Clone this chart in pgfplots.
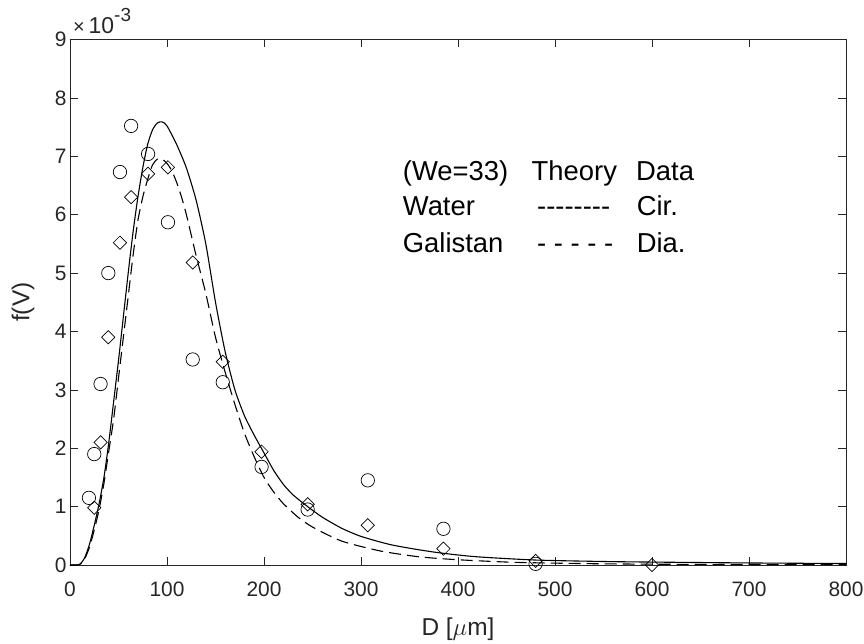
\documentclass[border=0pt]{standalone}
\usepackage{fontspec}
\setmainfont{Liberation Sans}
\usepackage{pgfplots}
\pgfplotsset{compat=1.18}
\definecolor{axgray}{HTML}{262626}
\newcommand\hy{\mbox{-}}
\begin{document}
\begin{tikzpicture}
\begin{axis}[
  at={(0,0)}, anchor=south west,
  scale only axis, width=776bp, height=525.5bp,
  xmin=0, xmax=800, ymin=0, ymax=9,
  xtick={0,100,...,800}, ytick={0,1,...,9},
  tick align=inside, major tick length=7.8bp,
  axis line style={axgray, line width=0.6bp},
  every tick/.style={axgray, line width=0.6bp},
  tick label style={font=\fontsize{21}{24}\selectfont, text=axgray},
  xticklabel shift=13bp,
  /pgf/number format/assume math mode=true,
  xlabel={D [$\mu$m]}, ylabel={f(V)},
  every axis x label/.style={at={(axis description cs:0.5,0)}, anchor=center, yshift=-64bp, font=\fontsize{24.5}{27}\selectfont, text=axgray},
  every axis y label/.style={at={(axis description cs:0,0.5)}, anchor=center, xshift=-47bp, rotate=90, font=\fontsize{24.5}{27}\selectfont, text=axgray},
  clip=false,
]
% Water theory (solid)
\addplot[black, line width=1.1bp, smooth, tension=0.4] coordinates {
(0,0) (5,0) (10,0.01) (15,0.12) (20,0.35) (25,0.68) (30,1.05) (35,1.5) (40,2.1)
(45,2.8) (50,3.5) (55,4.25) (60,5.0) (65,5.7) (70,6.3) (75,6.8) (80,7.2) (85,7.45)
(90,7.57) (95,7.59) (100,7.52) (110,7.2) (120,6.8) (130,6.25) (140,5.5) (150,4.5)
(160,3.65) (170,3.0) (180,2.55) (190,2.22) (200,1.92) (210,1.62) (220,1.38) (230,1.2)
(245,1.0) (260,0.82) (280,0.63) (300,0.49) (330,0.35) (360,0.26) (385,0.2) (420,0.14)
(480,0.085) (550,0.06) (600,0.05) (700,0.035) (800,0.025)};
% Galistan theory (dashed)
\addplot[black, line width=1.1bp, dash pattern=on 12bp off 6bp, smooth, tension=0.4] coordinates {
(0,0) (5,0) (10,0.01) (15,0.1) (20,0.3) (25,0.6) (30,0.95) (35,1.4) (40,1.95)
(45,2.5) (50,3.2) (55,3.9) (60,4.6) (65,5.3) (70,5.9) (75,6.3) (80,6.6) (85,6.85)
(90,6.95) (95,6.95) (100,6.88) (105,6.75) (110,6.55) (115,6.3) (120,6.0) (125,5.65)
(130,5.3) (140,4.65) (150,3.9) (160,3.3) (170,2.75) (180,2.25) (190,1.85) (200,1.5)
(210,1.25) (220,1.05) (235,0.82) (250,0.65) (280,0.41) (320,0.24) (360,0.14) (400,0.09)
(460,0.045) (550,0.02) (650,0.01) (800,0.005)};
% Water data (circles)
\addplot[only marks, mark=o, mark size=6.7bp, black, line width=0.7bp] coordinates {
(19.5,1.15) (25,1.9) (31.5,3.1) (39.5,5.0) (51.5,6.73) (63,7.52) (80.5,7.04) (101,5.87)
(126.5,3.52) (157.5,3.13) (197.5,1.68) (245,0.95) (307,1.45) (385,0.62) (480,0.02)};
% Galistan data (diamonds)
\addplot[only marks, mark=square, mark size=4.7bp, mark options={rotate=45}, black, line width=0.7bp] coordinates {
(25,0.98) (31.5,2.1) (39.5,3.9) (51.5,5.52) (63,6.30) (80.5,6.70) (101,6.81) (126.5,5.18)
(157.5,3.48) (197.5,1.94) (245,1.04) (307,0.68) (385,0.28) (480,0.07) (600,0.0)};
% text block
\begin{scope}[every node/.style={anchor=base west, font=\fontsize{27.5}{30}\selectfont, inner sep=0pt}]
\node at (axis cs:343,6.59) {(We=33)};
\node at (axis cs:475.8,6.59) {Theory};
\node at (axis cs:583.5,6.59) {Data};
\node at (axis cs:343,5.99) {Water};
\node at (axis cs:481.4,5.99) {\hy\hy\hy\hy\hy\hy\hy\hy};
\node at (axis cs:584.2,5.99) {Cir.};
\node at (axis cs:343,5.35) {Galistan};
\node at (axis cs:481.4,5.35) {\hy\ \hy\ \hy\ \hy\ \hy};
\node at (axis cs:584.2,5.35) {Dia.};
\end{scope}
\node[anchor=base west, inner sep=0pt, text=axgray] at (axis cs:3,9.11) {\fontsize{20}{22}\selectfont ×\kern4bp\fontsize{23}{25}\selectfont 10\raisebox{12bp}{\fontsize{19}{20}\selectfont -3}};
\end{axis}
\pgfresetboundingbox
\path (-70bp,-79bp) rectangle (794bp,565bp);
\end{tikzpicture}
\end{document}
